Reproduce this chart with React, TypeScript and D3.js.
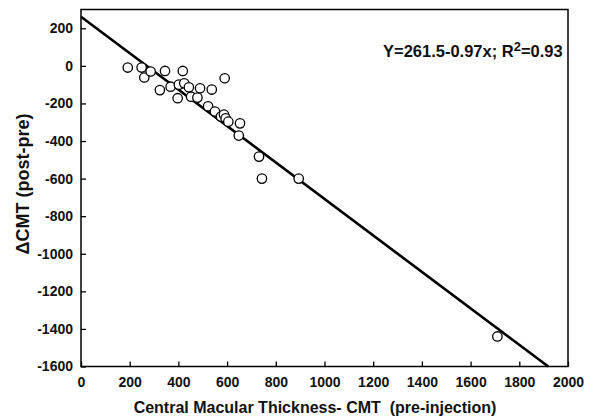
import React, { useEffect, useRef } from 'react';
import * as d3 from 'd3';

// pre-injection CMT vs change in CMT (post - pre)
const cmtPre = [192, 249, 260, 286, 345, 418, 324, 368, 402, 424, 443, 397, 452, 478, 489, 537, 590, 522, 550, 575, 587, 594, 605, 653, 648, 731, 743, 894, 1710];
const cmtChange = [-9, -9, -62, -30, -27, -27, -129, -111, -100, -93, -114, -172, -164, -169, -119, -126, -66, -215, -243, -270, -259, -279, -297, -306, -371, -483, -600, -600, -1440];

const xTicks = [0, 200, 400, 600, 800, 1000, 1200, 1400, 1600, 1800, 2000];
const yTicks = [200, 0, -200, -400, -600, -800, -1000, -1200, -1400, -1600];

const intercept = 261.5;
const slope = -0.97;

export default function App() {
  const ref = useRef<SVGSVGElement>(null);

  useEffect(() => {
    const width = 608;
    const height = 417;
    const left = 81, right = 568, top = 9.5, bottom = 366.5;

    const svg = d3.select(ref.current);
    svg.selectAll('*').remove();

    const x = d3.scaleLinear().domain([0, 2000]).range([left, right]);
    const y = d3.scaleLinear().domain([-1600, 300]).range([bottom, top]);

    const font = 'Liberation Sans, Arial, sans-serif';

    // axes (ticks point inward), plain hyphen for negatives
    const xAxis = d3.axisBottom(x).tickValues(xTicks).tickSizeInner(-5).tickSizeOuter(0).tickPadding(11).tickFormat((d) => String(d));
    const gx = svg.append('g').attr('transform', `translate(0,${bottom})`).call(xAxis);
    gx.select('.domain').remove();
    gx.selectAll('line').attr('stroke', '#000').attr('stroke-width', 1.3);
    gx.selectAll('text')
      .attr('font-family', font).attr('font-size', 14).attr('font-weight', 'bold').attr('fill', '#111');

    const yAxis = d3.axisLeft(y).tickValues(yTicks).tickSizeInner(-5).tickSizeOuter(0).tickPadding(8).tickFormat((d) => String(d));
    const gy = svg.append('g').attr('transform', `translate(${left},0)`).call(yAxis);
    gy.select('.domain').remove();
    gy.selectAll('line').attr('stroke', '#000').attr('stroke-width', 1.3);
    gy.selectAll('text')
      .attr('font-family', font).attr('font-size', 14).attr('font-weight', 'bold').attr('fill', '#111');

    // frame
    svg.append('rect')
      .attr('x', left).attr('y', top)
      .attr('width', right - left).attr('height', bottom - top)
      .attr('fill', 'none').attr('stroke', '#000').attr('stroke-width', 1.5);

    // regression line, clipped at the bottom of the plot
    const xEnd = (-1600 - intercept) / slope;
    svg.append('line')
      .attr('x1', x(0)).attr('y1', y(intercept))
      .attr('x2', x(xEnd)).attr('y2', y(-1600))
      .attr('stroke', '#000').attr('stroke-width', 2.6);

    // points
    svg.append('g')
      .selectAll('circle')
      .data(cmtPre)
      .join('circle')
      .attr('cx', (d) => x(d))
      .attr('cy', (d, i) => y(cmtChange[i]))
      .attr('r', 4.7)
      .attr('fill', '#fff')
      .attr('stroke', '#000')
      .attr('stroke-width', 1.3);

    // equation
    const eq = svg.append('text')
      .attr('x', 383).attr('y', 57)
      .attr('font-family', font).attr('font-size', 16.5).attr('font-weight', 'bold').attr('fill', '#111');
    eq.append('tspan').text('Y=261.5-0.97x; R');
    eq.append('tspan').attr('dy', -6).attr('font-size', 13).text('2');
    eq.append('tspan').attr('dy', 6).text('=0.93');

    // axis titles
    svg.append('text')
      .attr('x', 315).attr('y', 413)
      .attr('text-anchor', 'middle')
      .attr('font-family', font).attr('font-size', 16).attr('font-weight', 'bold').attr('fill', '#111')
      .style('white-space', 'pre')
      .text('Central Macular Thickness- CMT  (pre-injection)');

    svg.append('text')
      .attr('transform', `translate(28.5,184) rotate(-90)`)
      .attr('text-anchor', 'middle')
      .attr('font-family', font).attr('font-size', 18).attr('font-weight', 'bold').attr('fill', '#111')
      .text('\u0394CMT (post-pre)');

    svg.attr('width', width).attr('height', height);
  }, []);

  return (
    <div>
      <svg ref={ref} style={{ position: 'absolute', left: 0, top: 0, background: '#fff' }} />
    </div>
  );
}
